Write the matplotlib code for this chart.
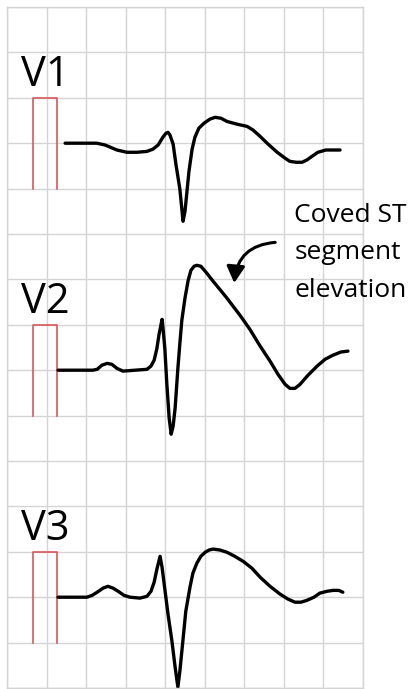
import numpy as np
import matplotlib.pyplot as plt

# traces, in grid boxes: x along the strip, amplitude above baseline
v1_x = [1.47, 2.27, 2.48, 2.78, 3.03, 3.29, 3.54, 3.69, 3.82, 3.94, 4.02, 4.07,
        4.12, 4.20, 4.27, 4.37, 4.42, 4.45, 4.50, 4.55, 4.60, 4.68, 4.75, 4.85,
        4.98, 5.13, 5.26, 5.41, 5.56, 5.81, 6.07, 6.22, 6.40, 6.60, 6.83, 7.03,
        7.15, 7.31, 7.46, 7.58, 7.71, 7.86, 8.06, 8.42]
v1_y = [0, 0, -0.04, -0.15, -0.20, -0.20, -0.18, -0.13, -0.04, 0.13, 0.22, 0.24,
        0.18, -0.02, -0.46, -1.01, -1.45, -1.72, -1.50, -1.06, -0.62, -0.13, 0.13, 0.33,
        0.44, 0.53, 0.57, 0.55, 0.48, 0.42, 0.37, 0.29, 0.15, -0.02, -0.20, -0.33,
        -0.40, -0.42, -0.42, -0.37, -0.29, -0.20, -0.15, -0.15]

v2_x = [1.29, 2.17, 2.28, 2.40, 2.53, 2.65, 2.78, 2.93, 3.24, 3.54, 3.64, 3.72,
        3.79, 3.84, 3.89, 3.92, 3.94, 3.99, 4.04, 4.10, 4.15, 4.20, 4.25, 4.32,
        4.37, 4.42, 4.50, 4.58, 4.65, 4.73, 4.80, 4.90, 5.03, 5.21, 5.54, 5.89,
        6.14, 6.40, 6.65, 6.85, 7.03, 7.15, 7.28, 7.41, 7.61, 7.84, 8.04, 8.24,
        8.44, 8.62]
v2_y = [0, 0, 0.02, 0.11, 0.15, 0.13, 0.04, -0.02, 0, 0.02, 0.09, 0.22,
        0.48, 0.77, 0.99, 1.12, 0.97, 0.48, -0.29, -1.06, -1.41, -1.23, -0.84, 0.04,
        0.59, 1.10, 1.59, 1.98, 2.20, 2.29, 2.31, 2.29, 2.16, 1.96, 1.61, 1.21,
        0.90, 0.53, 0.20, -0.09, -0.31, -0.40, -0.40, -0.31, -0.11, 0.09, 0.24, 0.33,
        0.40, 0.42]

v3_x = [1.29, 2.02, 2.15, 2.28, 2.43, 2.55, 2.68, 2.81, 2.96, 3.11, 3.36, 3.54,
        3.64, 3.72, 3.79, 3.87, 3.92, 3.99, 4.07, 4.17, 4.25, 4.32, 4.37, 4.45,
        4.52, 4.63, 4.70, 4.80, 4.90, 5.01, 5.11, 5.21, 5.38, 5.56, 5.76, 5.97,
        6.19, 6.40, 6.65, 6.90, 7.10, 7.28, 7.43, 7.58, 7.76, 7.91, 8.09, 8.24,
        8.39, 8.49]
v3_y = [0, 0, 0.04, 0.11, 0.20, 0.24, 0.20, 0.13, 0.04, 0, -0.02, 0.02,
        0.13, 0.33, 0.62, 0.90, 0.66, 0.18, -0.37, -0.97, -1.54, -1.98, -1.63, -0.93,
        -0.31, 0.24, 0.53, 0.75, 0.90, 0.99, 1.04, 1.06, 1.04, 0.99, 0.90, 0.79,
        0.64, 0.44, 0.24, 0.07, -0.04, -0.11, -0.11, -0.07, 0, 0.09, 0.13, 0.15,
        0.15, 0.11]

leads = ['V1', 'V2', 'V3']
traces = [(v1_x, v1_y), (v2_x, v2_y), (v3_x, v3_y)]
baselines = [12, 7, 2]

# 1 mV calibration pulse
pulse_x = [0.66, 0.66, 1.26, 1.26]
pulse_y = [-1, 1, 1, -1]

font = ['Open Sans', 'DejaVu Sans']

fig = plt.figure(figsize=(4.09, 6.89), dpi=100)
ax = fig.add_axes([7/409, 1/689, 356/409, 681/689])
ax.set_xlim(0, 9)
ax.set_ylim(0, 15)
ax.set_xticks(range(10))
ax.set_yticks(range(16))
ax.tick_params(length=0, labelbottom=False, labelleft=False)
ax.grid(True, color='#d4d4d4', lw=1.0)
for s in ax.spines.values():
    s.set_color('#d4d4d4')
    s.set_linewidth(1.0)

for name, (tx, ty), b in zip(leads, traces, baselines):
    ax.plot(pulse_x, np.array(pulse_y) + b, color='#d8575a', lw=1.2)
    ax.plot(tx, np.array(ty) + b, color='black', lw=2.4,
            solid_joinstyle='round', solid_capstyle='round', clip_on=False)
    ax.text(0.36, b + 1.5, name, fontsize=30, family=font, va='center', ha='left')

ax.text(7.26, 10.68, 'Coved ST\nsegment\nelevation', fontsize=19, family=font,
        va='top', ha='left', linespacing=1.65, clip_on=False)
ax.annotate('', xy=(5.74, 8.86), xytext=(6.85, 9.82),
            arrowprops=dict(arrowstyle='-|>,head_length=1.0,head_width=0.55',
                            connectionstyle='arc3,rad=0.45', color='black', lw=2.2))

plt.savefig('out.png', dpi=100)
